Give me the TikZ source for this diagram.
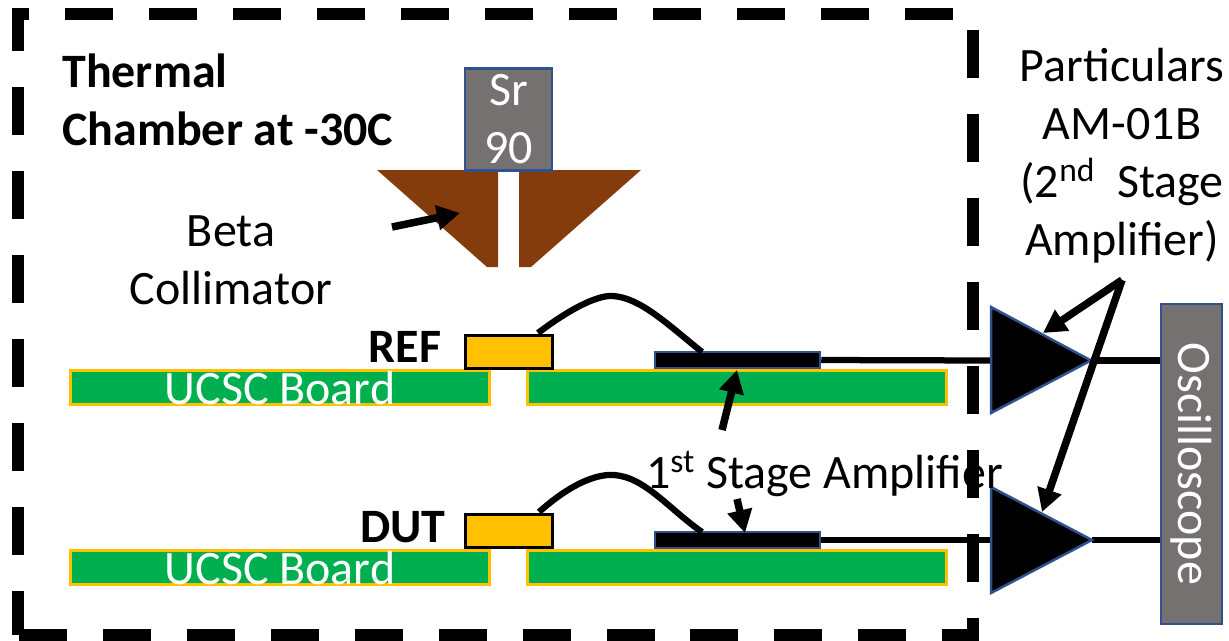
\documentclass[tikz,border=0pt]{standalone}
\usepackage{fontspec}
\setmainfont{Carlito}
\usetikzlibrary{arrows, arrows.meta}
\definecolor{srgray}{HTML}{767171}
\definecolor{edgeblue}{HTML}{2F528F}
\definecolor{collbrown}{HTML}{843C0C}
\definecolor{boardgreen}{HTML}{00B050}
\definecolor{chipyellow}{HTML}{FFC000}
\tikzset{
  lbl/.style={inner sep=0pt,align=center,font=\fontsize{27.3}{33}\selectfont},
  lblbold/.style={lbl,font=\fontsize{27.3}{33}\selectfont\bfseries},
  grayblock/.style={draw=edgeblue,line width=0.05cm,fill=srgray,text=white,inner sep=0pt,align=center,font=\fontsize{27.3}{33}\selectfont},
  chip/.style={draw=black,line width=0.06cm,fill=chipyellow,inner sep=0pt,minimum width=1.74cm,minimum height=0.66cm},
  board/.style={draw=chipyellow,line width=0.06cm,fill=boardgreen,inner sep=0pt,minimum height=0.68cm},
  preamp/.style={draw=edgeblue,line width=0.05cm,fill=black,inner sep=0pt,minimum width=3.3cm,minimum height=0.32cm},
  amp/.style={draw=edgeblue,line width=0.05cm,fill=black},
  wire/.style={line width=0.125cm},
  pointer/.style={line width=0.15cm,-{Triangle[length=0.46cm,width=0.48cm]}},
}
\begin{document}
\begin{tikzpicture}[x=0.02cm,y=-0.02cm]
\useasboundingbox (0,0) rectangle (1229,640);
% chamber
\coordinate (cornerA) at (18,635);
\coordinate (cornerB) at (18,14);
\coordinate (cornerC) at (973,14);
\coordinate (cornerD) at (973,635);
\draw[line width=0.24cm,dash pattern=on 0.96cm off 0.72cm,dash phase=0.08cm] (cornerA) -- (cornerB) -- (cornerC) -- (cornerD) -- cycle;
\node[lblbold,anchor=west,align=left] (chamber) at (62,100) {Thermal\\Chamber at -30C};
% source and collimator
\fill[collbrown] (377,170) -- (498,170) -- (498,267) -- (487,267) -- cycle;
\fill[collbrown] (519,170) -- (641,170) -- (531,267) -- (519,267) -- cycle;
\node[grayblock,minimum width=1.74cm,minimum height=2.04cm] (source) at (508.5,119.5) {Sr\\90};
\node[lbl] (colllabel) at (231,260) {Beta\\Collimator};
\coordinate (colltail) at (392,227);
\coordinate (colltip) at (460,213);
\draw[pointer] (colltail) -- (colltip);
% REF channel
\node[board,minimum width=8.4cm] (boardA) at (280,387) {};
\node[lbl,text=white] (ucscA) at (280,388) {UCSC Board};
\node[board,minimum width=8.4cm] (boardB) at (737,387) {};
\node[chip] (chipA) at (508.5,352) {};
\node[preamp] (preA) at (737.5,360) {};
\node[lblbold] (ref) at (405,347) {REF};
\coordinate (wireAs) at (538,333);
\coordinate (wireAe) at (702,352);
\draw[wire] (wireAs) .. controls (575,305) and (600,295) .. (613,296) .. controls (640,298) and (665,322) .. (wireAe);
% DUT channel
\node[board,minimum width=8.4cm] (boardC) at (280,567) {};
\node[lbl,text=white] (ucscC) at (280,568) {UCSC Board};
\node[board,minimum width=8.4cm] (boardD) at (737,567) {};
\node[chip] (chipC) at (508.5,531) {};
\node[preamp] (preC) at (737.5,540) {};
\node[lblbold] (dut) at (403,527) {DUT};
\coordinate (wireCs) at (539,512);
\coordinate (wireCe) at (702,532);
\draw[wire] (wireCs) .. controls (575,480) and (600,474) .. (614,475) .. controls (645,477) and (670,510) .. (wireCe);
% second stage amplifiers
\coordinate (ampAin) at (991,360.5);
\coordinate (ampAout) at (1091,360.5);
\coordinate (ampCin) at (991,540);
\coordinate (ampCout) at (1092,540);
\node[grayblock,minimum width=6.4cm,minimum height=1.22cm,rotate=-90] (scope) at (1191.5,464) {Oscilloscope};
\draw[wire] (preA.east) -- (ampAin);
\draw[wire] (preC.east) -- (ampCin);
\draw[wire] (ampAout) -- (scope.south |- ampAout);
\draw[wire] (ampCout) -- (scope.south |- ampCout);
\draw[amp] (991,307) -- (ampAout) -- (991,413) -- cycle;
\draw[amp] (991,487) -- (ampCout) -- (991,593) -- cycle;
% labels and pointers
\node[lbl] (part) at (1122,156) {Particulars\\AM-01B\\(2\textsuperscript{nd}\ \ Stage\\Amplifier)};
\coordinate (parttail) at (1122,280);
\coordinate (parttipA) at (1043,333);
\coordinate (parttipC) at (1042,512);
\draw[pointer] (parttail) -- (parttipA);
\draw[pointer] (parttail) -- (parttipC);
\node[lbl] (first) at (824.5,474) {1\textsuperscript{st} Stage Amplifier};
\coordinate (firsttailA) at (722,430);
\coordinate (firsttipA) at (737,370);
\coordinate (firsttailC) at (737,499);
\coordinate (firsttipC) at (745,533);
\draw[pointer] (firsttailA) -- (firsttipA);
\draw[pointer] (firsttailC) -- (firsttipC);
\end{tikzpicture}
\end{document}
